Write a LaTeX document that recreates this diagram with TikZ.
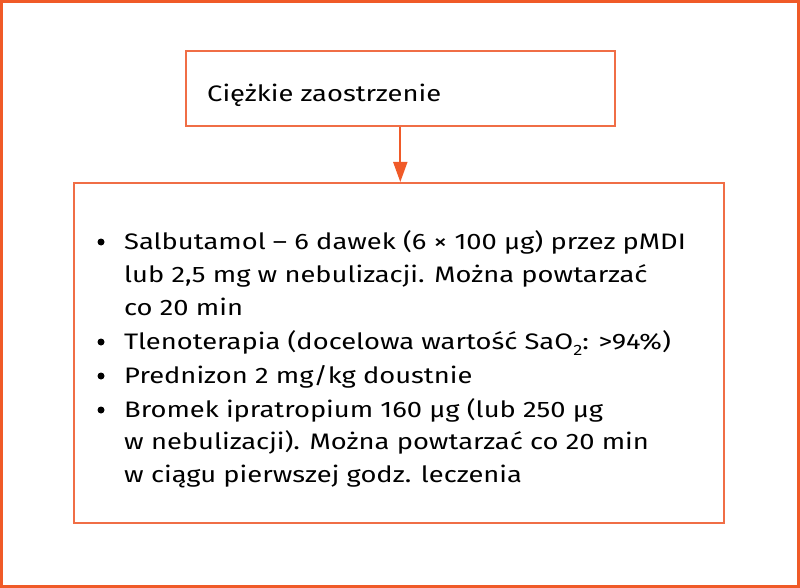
\documentclass[tikz,border=0pt]{standalone}
\usepackage{fontspec}
\setmainfont{Fira Sans}[FakeStretch=1.22]
\usetikzlibrary{arrows.meta}
\definecolor{frame}{RGB}{240,110,70}
\definecolor{arrowc}{RGB}{240,90,40}
\newcommand{\lowsub}[1]{\raisebox{-6pt}{\fontsize{15}{15}\selectfont #1}}
\tikzset{
  box/.style={draw=frame, line width=1.6pt, fill=white, inner sep=0pt, anchor=north west},
  txt/.style={anchor=base west, inner sep=0pt, font=\fontsize{22.4}{26}\selectfont, text=black},
  bul/.style={circle, fill=black, inner sep=0pt, minimum size=7pt},
  conn/.style={draw=arrowc, line width=1.8pt, -{Triangle[width=14pt,length=20pt]}}
}
\begin{document}
\begin{tikzpicture}[x=1pt,y=-1pt]
\useasboundingbox (0,0) rectangle (800,588);
\draw[draw=arrowc, line width=3pt] (1.5,1.5) rectangle (798.5,586.5);
\node[box, minimum width=429pt, minimum height=75pt] (top) at (185,50) {};
\node[txt] (toptext) at (207,102) {Ciężkie zaostrzenie};
\node[box, minimum width=650pt, minimum height=340pt] (bottom) at (73,182) {};
\draw[conn] (top.south) -- (top.south |- bottom.north);
\node[bul] (b1) at (101,242) {};
\node[txt] (l1) at (124,249) {Salbutamol – 6 dawek (6 × 100 μg) przez pMDI};
\node[txt] (l2) at (124,282) {lub 2,5 mg w nebulizacji. Można powtarzać};
\node[txt] (l3) at (124,315) {co 20 min};
\node[bul] (b2) at (101,342) {};
\node[txt] (l4) at (124,349) {Tlenoterapia (docelowa wartość SaO\lowsub{2}: >94\%)};
\node[bul] (b3) at (101,376) {};
\node[txt] (l5) at (124,383) {Prednizon 2 mg/kg doustnie};
\node[bul] (b4) at (101,410) {};
\node[txt] (l6) at (124,417) {Bromek ipratropium 160 μg (lub 250 μg};
\node[txt] (l7) at (124,449) {w nebulizacji). Można powtarzać co 20 min};
\node[txt] (l8) at (124,482) {w ciągu pierwszej godz. leczenia};
\end{tikzpicture}
\end{document}
